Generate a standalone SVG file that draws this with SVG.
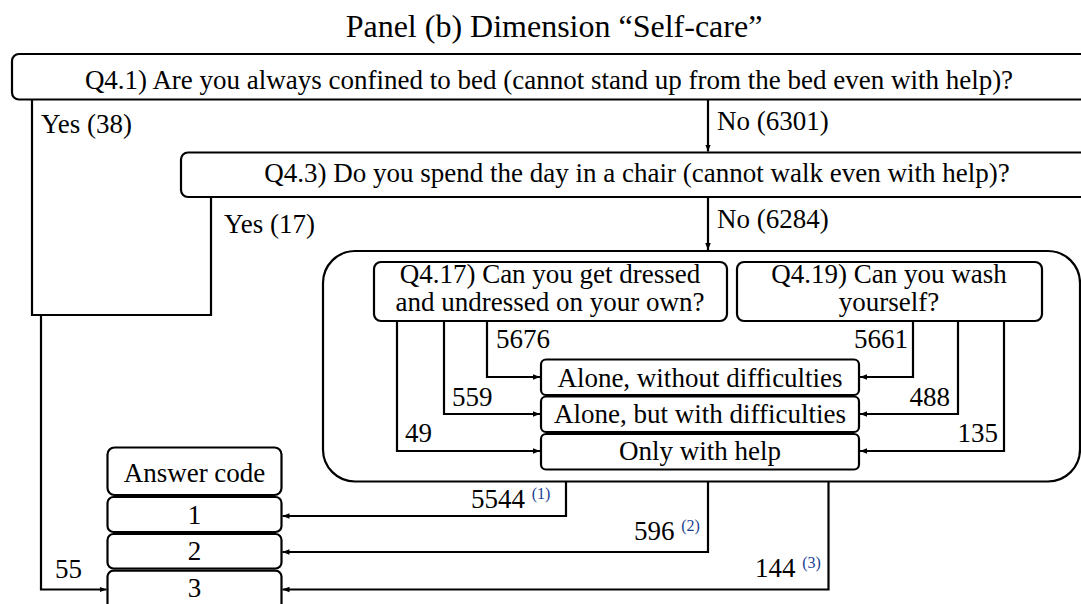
<svg xmlns="http://www.w3.org/2000/svg" width="1081" height="604" viewBox="0 0 1081 604">
<style>
text{font-family:"Liberation Serif","Times New Roman",serif;font-size:27px;fill:#000}
.t{font-size:32px}
.sup{font-size:16px;fill:#1c3f94}
.box{fill:#fff;stroke:#000;stroke-width:2.2}
.c{fill:none;stroke:#000;stroke-width:2.2}
.m{text-anchor:middle}
.e{text-anchor:end}
</style>
<defs>
<marker id="ah" viewBox="0 0 10 10" refX="10" refY="5" markerWidth="7" markerHeight="7" markerUnits="userSpaceOnUse" orient="auto"><path d="M0,1 L10,5 L0,9 z" fill="#000"/></marker>
</defs>
<rect width="1081" height="604" fill="#fff"/>
<text class="t m" x="554" y="37">Panel (b) Dimension “Self-care”</text>

<g id="container"><rect class="box" x="323" y="251" width="757" height="230.5" rx="32"/></g>

<g id="q41"><rect class="box" x="12" y="54" width="1090" height="45.5" rx="7"/>
<text class="m" x="549" y="89">Q4.1) Are you always confined to bed (cannot stand up from the bed even with help)?</text></g>

<g id="q43"><rect class="box" x="181" y="152.5" width="920" height="44.5" rx="7"/>
<text class="m" x="637" y="182">Q4.3) Do you spend the day in a chair (cannot walk even with help)?</text></g>

<g id="q417"><rect class="box" x="374" y="262" width="353" height="59" rx="7"/>
<text class="m" x="550" y="283">Q4.17) Can you get dressed</text>
<text class="m" x="550" y="311">and undressed on your own?</text></g>

<g id="q419"><rect class="box" x="737" y="262" width="305" height="59" rx="7"/>
<text class="m" x="889" y="283">Q4.19) Can you wash</text>
<text class="m" x="889" y="311">yourself?</text></g>

<g id="out1"><rect class="box" x="541" y="359.5" width="318" height="35.5" rx="5"/>
<text class="m" x="700" y="387">Alone, without difficulties</text></g>
<g id="out2"><rect class="box" x="541" y="396.5" width="318" height="35.5" rx="5"/>
<text class="m" x="700" y="423">Alone, but with difficulties</text></g>
<g id="out3"><rect class="box" x="541" y="434" width="318" height="35.5" rx="5"/>
<text class="m" x="700" y="460">Only with help</text></g>

<g id="ansHeader"><rect class="box" x="107.5" y="447.5" width="174" height="47.5" rx="7"/>
<text class="m" x="194.5" y="482">Answer code</text></g>
<g id="ans1"><rect class="box" x="107.5" y="497" width="174" height="35" rx="6"/>
<text class="m" x="194.5" y="523.5">1</text></g>
<g id="ans2"><rect class="box" x="107.5" y="534" width="174" height="34.5" rx="6"/>
<text class="m" x="194.5" y="560">2</text></g>
<g id="ans3"><rect class="box" x="107.5" y="570.7" width="174" height="50" rx="6"/>
<text class="m" x="194.5" y="597">3</text></g>

<g id="connectors">
<path class="c" d="M32,99.5 V315 H211 V197"/>
<path class="c" d="M41,315 V589.5 H106.5" marker-end="url(#ah)"/>
<path class="c" d="M708,99.5 V151.5" marker-end="url(#ah)"/>
<path class="c" d="M708,197 V250" marker-end="url(#ah)"/>
<path class="c" d="M487,321 V377 H540" marker-end="url(#ah)"/>
<path class="c" d="M444,321 V414 H540" marker-end="url(#ah)"/>
<path class="c" d="M397,321 V451 H540" marker-end="url(#ah)"/>
<path class="c" d="M913,321 V377 H860" marker-end="url(#ah)"/>
<path class="c" d="M958,321 V414 H860" marker-end="url(#ah)"/>
<path class="c" d="M1004,321 V451 H860" marker-end="url(#ah)"/>
<path class="c" d="M566,481.5 V516 H282.5" marker-end="url(#ah)"/>
<path class="c" d="M708,481.5 V552 H282.5" marker-end="url(#ah)"/>
<path class="c" d="M828.5,481.5 V589.5 H282.5" marker-end="url(#ah)"/>
</g>

<g id="labels">
<text x="41" y="133">Yes (38)</text>
<text x="717" y="130">No (6301)</text>
<text x="224" y="233">Yes (17)</text>
<text x="717" y="228">No (6284)</text>
<text x="496" y="348">5676</text>
<text x="452" y="406">559</text>
<text x="405" y="442">49</text>
<text class="e" x="908" y="348">5661</text>
<text class="e" x="950" y="406">488</text>
<text class="e" x="998" y="442">135</text>
<text x="471" y="508">5544 <tspan class="sup" dy="-9">(1)</tspan></text>
<text x="634" y="540">596 <tspan class="sup" dy="-9">(2)</tspan></text>
<text x="755" y="577">144 <tspan class="sup" dy="-9">(3)</tspan></text>
<text x="55" y="578">55</text>
</g>
</svg>
